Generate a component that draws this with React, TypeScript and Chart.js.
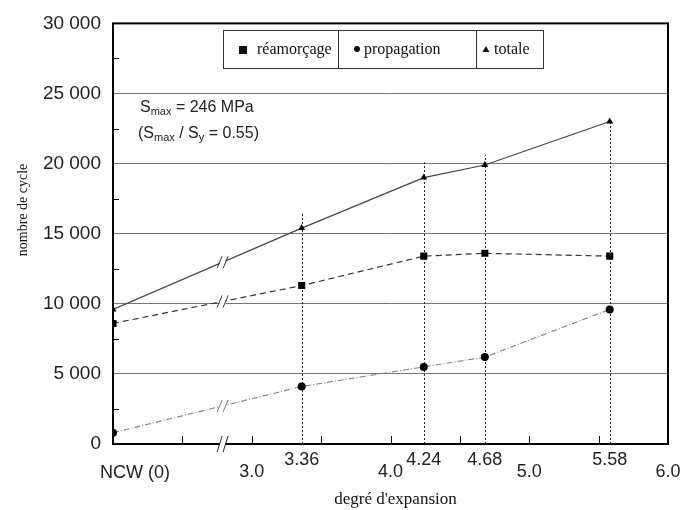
import React, { useEffect, useRef } from 'react';
import { Chart, registerables } from 'chart.js';

Chart.register(...registerables);

// Degree of expansion; the NCW (0) point is placed at 2.0 on the broken axis
const xPositions = [2, 3.36, 4.24, 4.68, 5.58];
const reamorcage = [8600, 11300, 13400, 13600, 13400];
const propagation = [800, 4100, 5500, 6200, 9600];
const totale = [9600, 15400, 19000, 19900, 23000];
// top of the dotted drop lines at each measured expansion (index 1..4)
const dropX = [3.36, 4.24, 4.68, 5.58];
const dropTops = [16400, 20100, 20600, 23100];
// x axis labels
const majorTickValues = [3, 4, 5, 6];
const majorTickLabels = ['3.0', '4.0', '5.0', '6.0'];
const dataTickLabels = ['3.36', '4.24', '4.68', '5.58'];
const ncwLabel = 'NCW (0)';
const minorTickValues = [2.5, 3, 3.5, 4, 4.5, 5, 5.5];
const breakAt = 2.79;
const seriesNames = ['réamorçage', 'propagation', 'totale'];

const SANS = '"Liberation Sans", Arial, sans-serif';
const SERIF = '"Liberation Serif", "Times New Roman", serif';

function pts(vals: number[]) {
  return xPositions.map((x, i) => ({ x, y: vals[i] }));
}

const customPlugin = {
  id: 'customDraw',
  beforeDatasetsDraw(chart: any) {
    const { ctx, chartArea: a, scales } = chart;
    const x = scales.x, y = scales.y;
    ctx.save();
    ctx.strokeStyle = '#222';
    ctx.lineWidth = 1;
    ctx.setLineDash([2, 2]);
    dropX.forEach((v: number, i: number) => {
      const px = Math.round(x.getPixelForValue(v)) + 0.5;
      ctx.beginPath();
      ctx.moveTo(px, a.bottom);
      ctx.lineTo(px, y.getPixelForValue(dropTops[i]));
      ctx.stroke();
    });
    ctx.restore();
  },
  afterDatasetsDraw(chart: any) {
    const { ctx, chartArea: a, scales } = chart;
    const x = scales.x, y = scales.y;
    ctx.save();

    // frame
    ctx.strokeStyle = '#000';
    ctx.lineWidth = 2;
    ctx.setLineDash([]);
    ctx.strokeRect(a.left, a.top, a.right - a.left, a.bottom - a.top);

    // y minor ticks (inward)
    ctx.lineWidth = 1;
    for (let v = 2500; v < 30000; v += 5000) {
      const py = Math.round(y.getPixelForValue(v)) + 0.5;
      ctx.beginPath();
      ctx.moveTo(a.left, py);
      ctx.lineTo(a.left + 6, py);
      ctx.stroke();
    }
    // x ticks (inward)
    minorTickValues.forEach((v) => {
      const px = Math.round(x.getPixelForValue(v)) + 0.5;
      ctx.beginPath();
      ctx.moveTo(px, a.bottom);
      ctx.lineTo(px, a.bottom - 8);
      ctx.stroke();
    });

    // breaks
    const bx = x.getPixelForValue(breakAt);
    const drawBreak = (cx: number, cy: number, h: number, color: string) => {
      ctx.save();
      ctx.strokeStyle = '#fff';
      ctx.lineWidth = 5;
      ctx.beginPath();
      ctx.moveTo(cx - 3, cy);
      ctx.lineTo(cx + 3, cy);
      ctx.stroke();
      ctx.strokeStyle = color;
      ctx.lineWidth = 1;
      [-3, 3].forEach((o) => {
        ctx.beginPath();
        ctx.moveTo(cx + o - 2.5, cy + h);
        ctx.lineTo(cx + o + 2.5, cy - h);
        ctx.stroke();
      });
      ctx.restore();
    };
    [totale, reamorcage, propagation].forEach((vals, k) => {
      const x0 = x.getPixelForValue(xPositions[0]);
      const x1 = x.getPixelForValue(xPositions[1]);
      const y0 = y.getPixelForValue(vals[0]);
      const y1 = y.getPixelForValue(vals[1]);
      const t = (bx - x0) / (x1 - x0);
      drawBreak(bx, y0 + t * (y1 - y0), 6, k === 2 ? '#777' : '#333');
    });
    drawBreak(bx, a.bottom, 8, '#222');

    // x labels
    ctx.fillStyle = '#222';
    ctx.textAlign = 'center';
    ctx.textBaseline = 'middle';
    ctx.font = `18px ${SANS}`;
    majorTickValues.forEach((v, i) => {
      ctx.fillText(majorTickLabels[i], x.getPixelForValue(v), a.bottom + 28);
    });
    dataTickLabels.forEach((l, i) => {
      ctx.fillText(l, x.getPixelForValue(dropX[i]), a.bottom + 16);
    });
    ctx.fillText(ncwLabel, x.getPixelForValue(xPositions[0]) + 22, a.bottom + 29);

    // axis titles
    ctx.font = `17px ${SERIF}`;
    ctx.fillStyle = '#111';
    ctx.fillText("degré d'expansion", (a.left + a.right) / 2 + 5, a.bottom + 56);
    ctx.save();
    ctx.translate(23, 210);
    ctx.rotate(-Math.PI / 2);
    ctx.font = `14px ${SERIF}`;
    ctx.fillText('nombre de cycle', 0, 0);
    ctx.restore();

    // legend box
    const lx = 223, ly = 30, lw = 320, lh = 38;
    const d1 = 338, d2 = 476;
    ctx.strokeStyle = '#333';
    ctx.lineWidth = 1;
    ctx.strokeRect(lx + 0.5, ly + 0.5, lw, lh);
    ctx.beginPath();
    ctx.moveTo(d1 + 0.5, ly); ctx.lineTo(d1 + 0.5, ly + lh);
    ctx.moveTo(d2 + 0.5, ly); ctx.lineTo(d2 + 0.5, ly + lh);
    ctx.stroke();
    const cy = ly + lh / 2 + 1;
    ctx.fillStyle = '#111';
    ctx.fillRect(239, cy - 4, 8, 8);
    ctx.beginPath(); ctx.arc(357, cy - 1, 3, 0, Math.PI * 2); ctx.fill();
    ctx.beginPath(); ctx.moveTo(486, cy - 4); ctx.lineTo(489.5, cy + 2); ctx.lineTo(482.5, cy + 2); ctx.closePath(); ctx.fill();
    ctx.font = `16px ${SERIF}`;
    ctx.textAlign = 'left';
    ctx.fillText(seriesNames[0], 257, cy);
    ctx.fillText(seriesNames[1], 364, cy);
    ctx.fillText(seriesNames[2], 494, cy);

    // annotation
    ctx.fillStyle = '#222';
    ctx.textBaseline = 'alphabetic';
    const drawRich = (parts: [string, boolean][], sx: number, by: number) => {
      let cx = sx;
      parts.forEach(([s, sub]) => {
        ctx.font = sub ? `11px ${SANS}` : `16px ${SANS}`;
        ctx.fillText(s, cx, sub ? by + 3 : by);
        cx += ctx.measureText(s).width;
      });
    };
    drawRich([['S', false], ['max', true], [' = 246 MPa', false]], 140, 112);
    drawRich([['(S', false], ['max', true], [' / S', false], ['y', true], [' = 0.55)', false]], 138, 138);

    ctx.restore();
  },
};

export default function App() {
  const ref = useRef<HTMLCanvasElement | null>(null);
  useEffect(() => {
    document.body.style.margin = '0';
    const canvas = ref.current;
    if (!canvas) return;
    const chart = new Chart(canvas, {
      type: 'line',
      data: {
        datasets: [
          {
            label: seriesNames[0],
            data: pts(reamorcage),
            borderColor: '#333',
            borderWidth: 1.2,
            borderDash: [6, 4],
            tension: 0,
            pointStyle: 'rect',
            pointRadius: 5,
            pointBackgroundColor: '#000',
            pointBorderColor: '#000',
            pointBorderWidth: 0,
            fill: false,
          },
          {
            label: seriesNames[1],
            data: pts(propagation),
            borderColor: '#888',
            borderWidth: 1.2,
            borderDash: [6, 2, 1, 2],
            tension: 0,
            pointStyle: 'circle',
            pointRadius: 4,
            pointBackgroundColor: '#000',
            pointBorderColor: '#000',
            pointBorderWidth: 0,
            fill: false,
          },
          {
            label: seriesNames[2],
            data: pts(totale),
            borderColor: '#444',
            borderWidth: 1.2,
            tension: 0,
            pointStyle: 'triangle',
            pointRadius: 4,
            pointBackgroundColor: '#000',
            pointBorderColor: '#000',
            pointBorderWidth: 0,
            fill: false,
          },
        ],
      },
      options: {
        responsive: false,
        animation: false,
        events: [],
        layout: { padding: { left: 8, right: 14, top: 22, bottom: 66 } },
        plugins: { legend: { display: false }, tooltip: { enabled: false } },
        scales: {
          x: {
            type: 'linear',
            min: 2,
            max: 6,
            ticks: { display: false },
            grid: { display: false, drawTicks: false },
            border: { display: false },
          },
          y: {
            min: 0,
            max: 30000,
            ticks: {
              stepSize: 5000,
              padding: 12,
              color: '#222',
              font: { family: SANS, size: 19 },
              callback: (v: any) => (v === 0 ? '0' : `${v / 1000} 000`),
            },
            grid: {
              drawTicks: false,
              color: (c: any) => (c.tick && (c.tick.value === 0 || c.tick.value === 30000) ? 'rgba(0,0,0,0)' : '#777'),
              lineWidth: 1,
            },
            border: { display: false },
            afterFit: (s: any) => { s.width = 105; },
          },
        },
      },
      plugins: [customPlugin],
    });
    return () => chart.destroy();
  }, []);
  return <canvas ref={ref} width={682} height={510} style={{ display: 'block' }} />;
}
